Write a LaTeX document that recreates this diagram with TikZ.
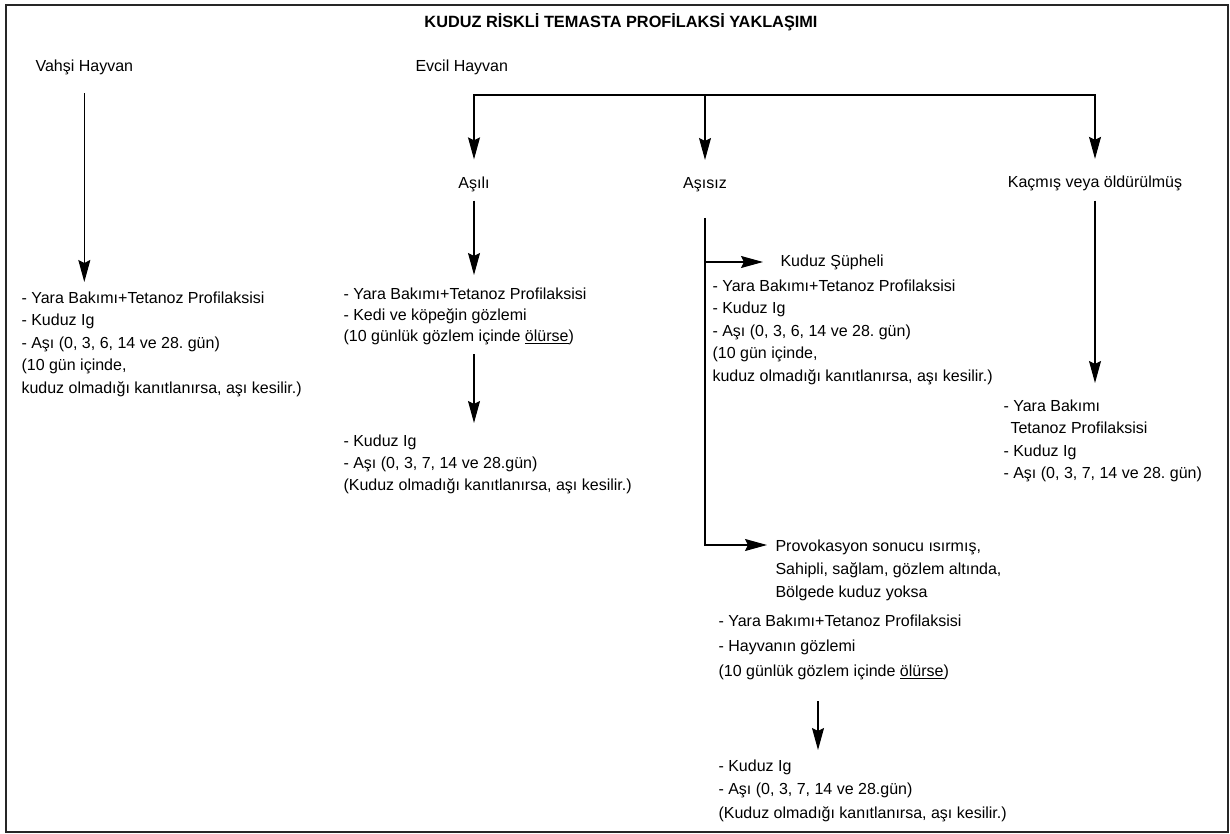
\documentclass[tikz,border=0pt]{standalone}
\usepackage{fontspec}
\setmainfont{Liberation Sans}
\usetikzlibrary{arrows.meta,positioning}
\frenchspacing

\begin{document}
\begin{tikzpicture}[x=1pt, y=-1pt, line width=1.1pt,
    ok/.style={-{Stealth[length=22pt,width=12pt,inset=3pt]}},
    baslik/.style={font=\bfseries\fontsize{16.3}{19}\selectfont},
    hayvan/.style={font=\fontsize{16}{19}\selectfont, inner sep=0pt, anchor=base},
    metin/.style={font=\fontsize{16}{22.5}\selectfont, align=left, anchor=north west, inner sep=0pt}]
  \useasboundingbox (0,0) rectangle (1230,834);
  \draw[black!85, line width=2pt] (5.5,5) rectangle (1228,832);

  \node (title) [baslik] at (621,22) {KUDUZ RİSKLİ TEMASTA PROFİLAKSİ YAKLAŞIMI};
  \node (vahsi) [hayvan, anchor=base west] at (35,72) {Vahşi Hayvan};
  \node (evcil) [hayvan, anchor=base west] at (415,72) {Evcil Hayvan};
  \node (asili) [hayvan] at (474,189) {Aşılı};
  \node (asisiz) [hayvan] at (705,189) {Aşısız};
  \node (kacmis) [hayvan] at (1095,188) {Kaçmış veya öldürülmüş};

  \node (vblock) [metin] at (21,291) {- Yara Bakımı+Tetanoz Profilaksisi\\- Kuduz Ig\\- Aşı (0, 3, 6, 14 ve 28. gün)\\(10 gün içinde,\\kuduz olmadığı kanıtlanırsa, aşı kesilir.)};
  \node (ablock1) [metin, font=\fontsize{16}{21}\selectfont] at (343,287) {- Yara Bakımı+Tetanoz Profilaksisi\\- Kedi ve köpeğin gözlemi\\(10 günlük gözlem içinde \underline{ölürse})};
  \node (ablock2) [metin, font=\fontsize{16}{22}\selectfont] at (343,434) {- Kuduz Ig\\- Aşı (0, 3, 7, 14 ve 28.gün)\\(Kuduz olmadığı kanıtlanırsa, aşı kesilir.)};
  \node (supheli) [hayvan, anchor=west] at (780,262) {Kuduz Şüpheli};
  \node (sblock) [metin] at (712,279) {- Yara Bakımı+Tetanoz Profilaksisi\\- Kuduz Ig\\- Aşı (0, 3, 6, 14 ve 28. gün)\\(10 gün içinde,\\kuduz olmadığı kanıtlanırsa, aşı kesilir.)};
  \node (provok) [metin, font=\fontsize{16}{23}\selectfont] at (775,539) {Provokasyon sonucu ısırmış,\\Sahipli, sağlam, gözlem altında,\\Bölgede kuduz yoksa};
  \node (pblock) [metin, font=\fontsize{16}{25}\selectfont] at (718,614) {- Yara Bakımı+Tetanoz Profilaksisi\\- Hayvanın gözlemi\\(10 günlük gözlem içinde \underline{ölürse})};
  \node (sonblock) [metin, font=\fontsize{16}{23.5}\selectfont] at (718,759) {- Kuduz Ig\\- Aşı (0, 3, 7, 14 ve 28.gün)\\(Kuduz olmadığı kanıtlanırsa, aşı kesilir.)};
  \node (kblock) [metin] at (1003,399) {- Yara Bakımı\\\hspace*{7pt}Tetanoz Profilaksisi\\- Kuduz Ig\\- Aşı (0, 3, 7, 14 ve 28. gün)};

  \coordinate (catal) at (600,95);
  \draw[line cap=rect] (asili.north |- catal) -- (kacmis.north |- catal);
  \draw[ok, shorten >=17.5pt] (asili.north |- catal) -- (asili.north);
  \draw[ok, shorten >=17.5pt] (asisiz.north |- catal) -- (asisiz.north);
  \draw[ok, shorten >=17pt] (kacmis.north |- catal) -- (kacmis.north);

  \draw[ok, shorten <=17.5pt, shorten >=9pt] (vahsi.south) -- (vahsi.south |- vblock.north);
  \draw[ok, shorten <=7.7pt, shorten >=12pt] (asili.south) -- (asili.south |- ablock1.north);
  \draw[ok, shorten <=9pt, shorten >=11pt] (asili.south |- ablock1.south) -- (asili.south |- ablock2.north);
  \draw[ok, shorten <=8.7pt, shorten >=16pt] (kacmis.south) -- (kacmis.south |- kblock.north);

  \draw[ok, shorten >=8pt] ([yshift=-25pt]asisiz.south) |- ([yshift=-6pt]provok.north west);
  \draw[ok, shorten >=17pt] (asisiz.south |- supheli.west) -- (supheli.west);
  \draw[ok, shorten <=21pt, shorten >=9pt] ([xshift=100pt]pblock.south west) -- ([xshift=100pt]sonblock.north west);
\end{tikzpicture}
\end{document}
